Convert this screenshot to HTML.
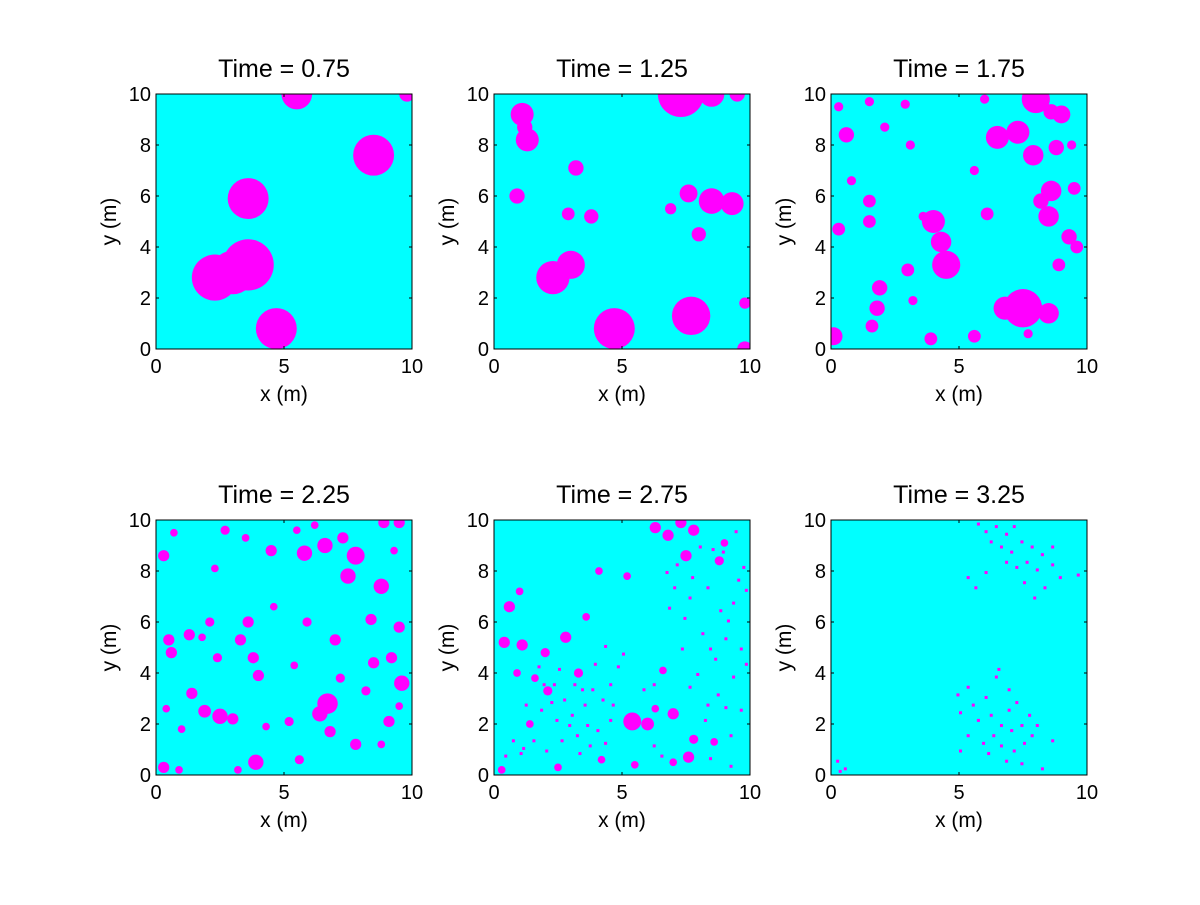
<!DOCTYPE html>
<html><head><meta charset="utf-8"><style>
body{margin:0;background:#fff;}
svg text{font-family:"Liberation Sans",Arial,sans-serif;fill:#000;}
</style></head><body>
<svg id="fig" width="1200" height="900" viewBox="0 0 1200 900"></svg>
<script>
const titles=["Time = 0.75","Time = 1.25","Time = 1.75","Time = 2.25","Time = 2.75","Time = 3.25"];
const xTicks=[0,5,10];
const yTicks=[0,2,4,6,8,10];
// blobs: [x, y, r] in metres
const blobs1=[[5.5,10,0.6],[9.8,10,0.3],[8.5,7.6,0.8],[3.6,5.9,0.8],[2.3,2.8,0.9],[3.6,3.3,1.0],[3.0,3.0,0.85],[4.7,0.8,0.8]];
const blobs2=[[1.1,9.2,0.45],[1.3,8.2,0.45],[1.2,8.7,0.3],[0.9,6,0.3],[3.2,7.1,0.3],[2.9,5.3,0.25],[3.8,5.2,0.28],[2.3,2.8,0.65],[3.0,3.3,0.55],[4.7,0.8,0.8],[7.3,10,0.9],[8.5,10,0.5],[9.5,10,0.3],[7.7,1.3,0.75],[8.5,5.8,0.5],[7.6,6.1,0.35],[9.3,5.7,0.45],[6.9,5.5,0.22],[8.0,4.5,0.28],[9.8,1.8,0.22],[9.8,0,0.3]];
const blobs3=[[8,9.8,0.55],[6.5,8.3,0.45],[7.3,8.5,0.45],[7.9,7.6,0.4],[8.6,9.3,0.3],[9,9.2,0.35],[8.6,6.2,0.4],[8.5,5.2,0.4],[8.2,5.8,0.3],[9.3,4.4,0.3],[9.6,4,0.25],[4,5,0.45],[4.5,3.3,0.55],[4.3,4.2,0.4],[7.5,1.6,0.75],[6.8,1.6,0.45],[8.5,1.4,0.4],[1.5,5.8,0.25],[1.5,5.0,0.25],[0.6,8.4,0.3],[0.3,4.7,0.25],[1.9,2.4,0.3],[1.8,1.6,0.3],[1.6,0.9,0.25],[3.0,3.1,0.25],[3.2,1.9,0.18],[0.1,0.5,0.35],[0.3,9.5,0.18],[2.1,8.7,0.18],[9.5,6.3,0.25],[8.9,3.3,0.25],[5.6,0.5,0.25],[3.9,0.4,0.25],[3.6,5.2,0.18],[6.1,5.3,0.25],[0.8,6.6,0.18],[1.5,9.7,0.18],[2.9,9.6,0.18],[3.1,8.0,0.18],[5.6,7.0,0.18],[6.0,9.8,0.18],[7.7,0.6,0.18],[8.8,7.9,0.3],[9.4,8.0,0.18]];
const blobs4=[[0.3,8.6,0.22],[0.7,9.5,0.15],[2.7,9.6,0.18],[2.3,8.1,0.15],[3.5,9.3,0.15],[4.5,8.8,0.22],[5.5,9.6,0.15],[5.8,8.7,0.3],[6.6,9.0,0.3],[7.3,9.3,0.22],[7.8,8.6,0.35],[7.5,7.8,0.3],[8.9,9.9,0.22],[9.5,9.9,0.22],[9.3,8.8,0.15],[8.8,7.4,0.3],[8.4,6.1,0.22],[9.5,5.8,0.22],[9.2,4.6,0.22],[9.6,3.6,0.3],[9.1,2.1,0.22],[9.5,2.7,0.15],[0.5,5.3,0.22],[0.6,4.8,0.22],[1.3,5.5,0.22],[1.8,5.4,0.15],[2.1,6.0,0.18],[1.4,3.2,0.22],[1.9,2.5,0.25],[2.5,2.3,0.3],[3.0,2.2,0.22],[2.4,4.6,0.18],[3.3,5.3,0.22],[3.6,6.0,0.22],[3.8,4.6,0.22],[4.0,3.9,0.22],[4.3,1.9,0.15],[3.9,0.5,0.3],[5.2,2.1,0.18],[5.6,0.6,0.18],[6.7,2.8,0.4],[6.4,2.4,0.3],[6.8,1.7,0.22],[7.0,5.3,0.22],[7.2,3.8,0.18],[7.8,1.2,0.22],[8.8,1.2,0.15],[5.9,6.0,0.18],[5.4,4.3,0.15],[4.6,6.6,0.15],[0.3,0.3,0.22],[0.9,0.2,0.15],[3.2,0.2,0.15],[1.0,1.8,0.15],[0.4,2.6,0.15],[6.2,9.8,0.15],[8.2,3.3,0.18],[8.5,4.4,0.22]];
const blobs5=[[0.6,6.6,0.22],[0.4,5.2,0.22],[1.1,5.1,0.22],[1.0,7.2,0.15],[2.0,4.8,0.18],[2.8,5.4,0.22],[3.6,6.2,0.15],[3.3,4.0,0.18],[2.1,3.3,0.18],[5.4,2.1,0.35],[6.0,2.0,0.25],[6.3,2.6,0.15],[7.0,2.4,0.22],[6.6,4.1,0.15],[5.2,7.8,0.15],[4.1,8.0,0.15],[6.3,9.7,0.22],[6.8,9.4,0.22],[7.3,9.9,0.22],[7.8,9.6,0.22],[7.5,8.6,0.22],[8.8,8.4,0.18],[9.0,9.1,0.15],[7.6,0.7,0.22],[7.0,0.5,0.15],[5.5,0.4,0.15],[4.2,0.6,0.15],[2.5,0.3,0.15],[0.3,0.2,0.15],[1.4,2.0,0.15],[0.9,4.0,0.15],[7.8,1.4,0.18],[8.6,1.3,0.15],[1.6,3.8,0.15]];
// speckle pixels [x, y]
const dots5=[[6.7,8.0],[7.0,7.4],[7.6,7.0],[8.3,7.4],[8.8,6.5],[9.3,6.8],[7.4,6.2],[8.1,5.6],[9.0,5.4],[9.6,5.0],[8.6,4.6],[9.3,3.9],[7.9,4.0],[8.7,3.2],[9.6,2.6],[8.2,2.2],[9.2,1.6],[7.3,5.0],[6.8,6.6],[9.7,8.2],[9.8,7.3],[8.5,8.9],[8.0,9.0],[9.4,9.6],[2.3,3.6],[2.7,3.0],[3.0,2.4],[3.5,2.8],[3.2,1.6],[2.6,1.4],[3.8,3.4],[4.2,3.0],[4.5,2.2],[4.0,1.8],[4.8,4.3],[4.5,3.6],[3.7,1.2],[4.3,1.3],[1.8,2.6],[1.5,1.4],[2.0,1.0],[0.7,1.4],[1.0,0.9],[0.4,0.8],[1.2,2.8],[2.4,2.2],[3.1,3.6],[3.9,4.4],[4.3,5.1],[5.0,4.8],[1.7,4.3],[2.5,4.2],[6.2,1.2],[6.5,0.8],[8.4,0.7],[9.2,0.4],[5.8,3.4],[6.2,3.6],[3.3,0.9],[2.9,2.0],[7.1,8.3],[7.7,7.8],[8.9,8.8],[9.5,7.7],[9.1,6.1],[8.4,5.0],[9.8,4.4],[7.6,3.5],[8.3,2.8],[9.0,2.7],[2.2,2.9],[1.9,3.6],[3.6,2.0],[4.6,2.8],[3.4,3.4],[1.1,1.1]];
const dots6=[[5.7,9.9],[6.0,9.6],[6.4,9.8],[6.8,9.5],[7.1,9.8],[6.2,9.2],[6.6,9.0],[7.0,8.8],[7.4,9.2],[7.8,9.0],[8.2,8.7],[6.8,8.4],[7.2,8.2],[7.6,8.4],[8.0,8.1],[8.6,8.3],[8.9,7.8],[7.5,7.6],[8.3,7.4],[6.0,8.0],[5.3,7.8],[5.6,7.4],[8.6,9.0],[9.6,7.9],[7.9,7.0],[6.4,3.9],[6.9,3.4],[6.0,3.1],[5.5,2.8],[5.0,2.5],[5.7,2.2],[6.2,2.4],[6.6,2.0],[7.0,1.8],[7.4,2.0],[7.8,1.6],[6.3,1.6],[5.9,1.3],[6.6,1.2],[7.1,1.0],[7.5,1.3],[8.0,2.0],[8.6,1.4],[5.3,1.6],[5.0,1.0],[6.8,0.6],[7.4,0.5],[8.2,0.3],[6.1,0.9],[6.9,2.6],[7.2,2.9],[4.9,3.2],[5.3,3.5],[0.2,0.6],[0.5,0.3],[0.3,0.2],[6.5,4.2],[7.7,2.4]];
const allBlobs=[blobs1,blobs2,blobs3,blobs4,blobs5,[]];
const allDots=[[],[],[],[],dots5,dots6];
const panelX=[156,494,831], panelY=[94,520], W=256, H=255;
const NS="http://www.w3.org/2000/svg";
const fig=document.getElementById('fig');
function mk(tag,attrs,parent){const e=document.createElementNS(NS,tag);for(const k in attrs)e.setAttribute(k,attrs[k]);parent.appendChild(e);return e;}
for(let p=0;p<6;p++){
  const x0=panelX[p%3], y0=panelY[Math.floor(p/3)];
  const sx=v=>x0+v/10*W, sy=v=>y0+H-v/10*H;
  const g=mk('g',{},fig);
  
  
  const cp=mk('clipPath',{id:'cp'+p},g);
  mk('rect',{x:x0,y:y0,width:W,height:H},cp);
  const bg=mk('rect',{x:x0,y:y0,width:W,height:H,fill:'#00ffff'},g);
  
  
  const mg=mk('g',{'clip-path':'url(#cp'+p+')',fill:'#ff00ff'},g);
  
  
  allBlobs[p].forEach(b=>{const c=mk('circle',{cx:sx(b[0]),cy:sy(b[1]),r:b[2]/10*W},mg);
    
    });
  allDots[p].forEach(d=>{const c=mk('rect',{x:sx(d[0]),y:sy(d[1]),width:3,height:3},mg);
    
    });
  mk('rect',{x:x0,y:y0,width:W,height:H,fill:'none',stroke:'#000','stroke-width':1},g);
  xTicks.forEach(t=>{
    mk('line',{x1:sx(t),x2:sx(t),y1:y0+H,y2:y0+H-3,stroke:'#000'},g);
    mk('line',{x1:sx(t),x2:sx(t),y1:y0,y2:y0+3,stroke:'#000'},g);
    const tx=mk('text',{x:sx(t),y:y0+H+24,'text-anchor':'middle','font-size':20},g);tx.textContent=t;
    
    
  });
  yTicks.forEach(t=>{
    mk('line',{x1:x0,x2:x0+3,y1:sy(t),y2:sy(t),stroke:'#000'},g);
    mk('line',{x1:x0+W,x2:x0+W-3,y1:sy(t),y2:sy(t),stroke:'#000'},g);
    const tx=mk('text',{x:x0-5,y:sy(t)+7,'text-anchor':'end','font-size':20},g);tx.textContent=t;
    
    
  });
  const tt=mk('text',{x:x0+W/2,y:y0-17,'text-anchor':'middle','font-size':25},g);tt.textContent=titles[p];
  
  
  const xl=mk('text',{x:x0+W/2,y:y0+H+52,'text-anchor':'middle','font-size':21},g);xl.textContent='x (m)';
  
  
  const yl=mk('text',{x:0,y:0,'text-anchor':'middle','font-size':21,transform:`translate(${x0-40},${y0+H/2}) rotate(-90)`},g);yl.textContent='y (m)';
  
  
}
</script>
</body></html>
